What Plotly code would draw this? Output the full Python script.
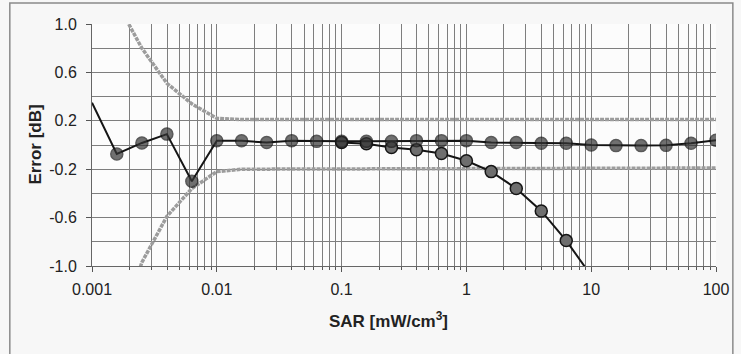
import plotly.graph_objects as go

# ---- data ----
sar = [0.001, 0.00158, 0.00251, 0.00398, 0.00631, 0.01, 0.0158, 0.0251, 0.0398, 0.0631,
       0.1, 0.158, 0.251, 0.398, 0.631, 1.0, 1.58, 2.51, 3.98, 6.31,
       10.0, 15.8, 25.1, 39.8, 63.1, 100.0]
err_a = [0.35, -0.074, 0.017, 0.09, -0.30, 0.035, 0.035, 0.02, 0.036, 0.03,
         0.03, 0.03, 0.03, 0.036, 0.036, 0.036, 0.02, 0.02, 0.014, 0.014,
         0.0, -0.005, -0.005, -0.003, 0.014, 0.04]

sar_b = [0.1, 0.158, 0.251, 0.398, 0.631, 1.0, 1.58, 2.51, 3.98, 6.31, 10.0]
err_b = [0.02, 0.01, -0.02, -0.04, -0.07, -0.13, -0.22, -0.36, -0.545, -0.79, -1.08]

sar_bound = [0.00158, 0.00251, 0.00398, 0.00631, 0.01, 0.0158, 100.0]
upper = [1.18, 0.80, 0.51, 0.34, 0.22, 0.21, 0.21]
lower = [-1.6, -0.97, -0.59, -0.36, -0.22, -0.20, -0.19]

x_ticks = [0.001, 0.01, 0.1, 1, 10, 100]
x_ticktext = ["0.001", "0.01", "0.1", "1", "10", "100"]
y_ticks = [-1.0, -0.6, -0.2, 0.2, 0.6, 1.0]
y_ticktext = ["-1.0", "-0.6", "-0.2", "0.2", "0.6", "1.0"]

FONT = "Liberation Sans, Arial, sans-serif"
GRID = "#7e7e7e"

fig = go.Figure()

bound_line = dict(color="#9c9c9c", width=3.5, dash="4px,1px")
fig.add_trace(go.Scatter(x=sar_bound, y=upper, mode="lines", line=bound_line,
                         showlegend=False, hoverinfo="skip"))
fig.add_trace(go.Scatter(x=sar_bound, y=lower, mode="lines", line=bound_line,
                         showlegend=False, hoverinfo="skip"))

fig.add_trace(go.Scatter(
    x=sar_b, y=err_b, mode="lines+markers",
    line=dict(color="#151515", width=2),
    marker=dict(size=12, color="#6e6e6e", line=dict(color="#151515", width=1.5)),
    showlegend=False))

fig.add_trace(go.Scatter(
    x=sar, y=err_a, mode="lines+markers",
    line=dict(color="#151515", width=2),
    marker=dict(size=[0] + [12] * (len(sar) - 1), color="#353535",
                line=dict(color="#151515", width=[0] + [1.5] * (len(sar) - 1))),
    showlegend=False))

fig.update_xaxes(
    type="log", range=[-3, 2],
    tickvals=x_ticks, ticktext=x_ticktext,
    ticks="outside", ticklen=5, tickcolor="#555",
    showgrid=True, gridcolor=GRID, gridwidth=1,
    minor=dict(showgrid=True, gridcolor=GRID, gridwidth=1, ticks="outside",
               ticklen=3, tickcolor="#555", dtick="D1"),
    showline=True, linecolor="#666", linewidth=1,
    tickfont=dict(family=FONT, size=16, color="#222"),
    ticklabelstandoff=4,
    zeroline=False,
)
fig.update_yaxes(
    range=[-1.0, 1.0],
    tickvals=y_ticks, ticktext=y_ticktext,
    ticks="outside", ticklen=5, tickcolor="#555",
    showgrid=True, gridcolor=GRID, gridwidth=1,
    minor=dict(showgrid=True, gridcolor=GRID, gridwidth=1, dtick=0.2, tick0=-1.0),
    showline=True, linecolor="#666", linewidth=1,
    tickfont=dict(family=FONT, size=16, color="#222"),
    ticklabelstandoff=6,
    zeroline=False,
)

fig.add_annotation(text="<b>SAR [mW/cm<sup>3</sup>]</b>", xref="paper", yref="paper",
                   x=0.475, y=-0.225, xanchor="center", yanchor="middle", showarrow=False,
                   font=dict(family=FONT, size=17, color="#222"))
fig.add_annotation(text="<b>Error [dB]</b>", xref="paper", yref="paper",
                   x=-0.092, y=0.5, xanchor="center", yanchor="middle", showarrow=False,
                   textangle=-90, font=dict(family=FONT, size=17, color="#222"))

fig.add_shape(type="rect", xref="paper", yref="paper",
              x0=-0.1317, x1=1.027, y0=-0.45, y1=1.0868,
              line=dict(color="#8a8a8a", width=1.5), layer="below")

fig.update_layout(
    width=741, height=354,
    margin=dict(l=92, r=19, t=24, b=88),
    paper_bgcolor="#f7f7f7", plot_bgcolor="#fcfcfc",
    font=dict(family=FONT),
)

fig.write_html("out.html")
